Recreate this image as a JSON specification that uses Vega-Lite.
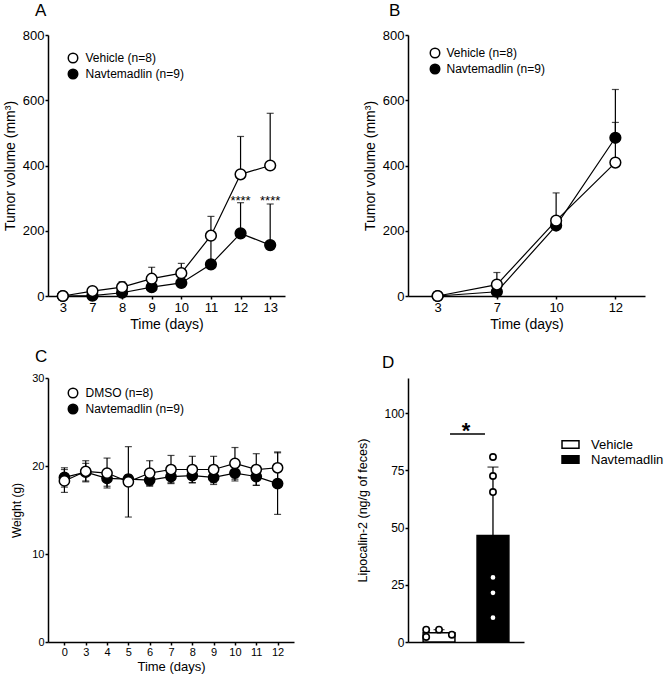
{
"$schema": "https://vega.github.io/schema/vega-lite/v6.json",
"background": "white",
"padding": {"left": 3, "top": 2, "right": 2, "bottom": 4},
"columns": 2,
"align": "none",
"bounds": "flush",
"spacing": {"row": 82, "column": 114},
"resolve": {"scale": {"fill": "independent", "x": "independent", "y": "independent"}, "legend": {"fill": "independent"}},
"config": {
 "font": "Liberation Sans",
 "view": {"stroke": null},
 "axis": {"grid": false, "domainColor": "black", "domainWidth": 1.5, "tickColor": "black", "tickWidth": 1.5, "tickSize": 3, "labelColor": "black", "titleColor": "black", "titleFontWeight": "normal", "labelFont": "Liberation Sans", "titleFont": "Liberation Sans"},
 "legend": {"labelColor": "black", "labelFont": "Liberation Sans", "padding": 0},
 "title": {"color": "black", "font": "Liberation Sans", "fontWeight": "normal", "fontSize": 17, "anchor": "start", "frame": "group"}
},
"datasets": {
 "A": [
  {"day":3,"group":"Navtemadlin (n=9)","mean":0,"hi":0},
  {"day":7,"group":"Navtemadlin (n=9)","mean":1,"hi":3},
  {"day":8,"group":"Navtemadlin (n=9)","mean":10,"hi":18},
  {"day":9,"group":"Navtemadlin (n=9)","mean":27,"hi":37},
  {"day":10,"group":"Navtemadlin (n=9)","mean":40,"hi":52},
  {"day":11,"group":"Navtemadlin (n=9)","mean":97,"hi":180},
  {"day":12,"group":"Navtemadlin (n=9)","mean":192,"hi":286},
  {"day":13,"group":"Navtemadlin (n=9)","mean":156,"hi":282},
  {"day":3,"group":"Vehicle (n=8)","mean":0,"hi":0},
  {"day":7,"group":"Vehicle (n=8)","mean":15,"hi":18},
  {"day":8,"group":"Vehicle (n=8)","mean":27,"hi":44},
  {"day":9,"group":"Vehicle (n=8)","mean":53,"hi":88},
  {"day":10,"group":"Vehicle (n=8)","mean":70,"hi":100},
  {"day":11,"group":"Vehicle (n=8)","mean":185,"hi":244},
  {"day":12,"group":"Vehicle (n=8)","mean":373,"hi":489},
  {"day":13,"group":"Vehicle (n=8)","mean":400,"hi":560}
 ],
 "Astars": [
  {"day":12,"y":279,"t":"****"},
  {"day":13,"y":279,"t":"****"}
 ],
 "B": [
  {"day":3,"group":"Navtemadlin (n=9)","mean":0,"hi":0},
  {"day":7,"group":"Navtemadlin (n=9)","mean":13,"hi":13},
  {"day":10,"group":"Navtemadlin (n=9)","mean":216,"hi":216},
  {"day":12,"group":"Navtemadlin (n=9)","mean":485,"hi":633},
  {"day":3,"group":"Vehicle (n=8)","mean":0,"hi":0},
  {"day":7,"group":"Vehicle (n=8)","mean":35,"hi":72},
  {"day":10,"group":"Vehicle (n=8)","mean":231,"hi":316},
  {"day":12,"group":"Vehicle (n=8)","mean":409,"hi":532}
 ],
 "C": [
  {"day":0,"group":"Navtemadlin (n=9)","mean":18.7,"lo":17.6,"hi":19.8},
  {"day":3,"group":"Navtemadlin (n=9)","mean":19.3,"lo":18.3,"hi":20.3},
  {"day":4,"group":"Navtemadlin (n=9)","mean":18.6,"lo":17.7,"hi":19.5},
  {"day":5,"group":"Navtemadlin (n=9)","mean":18.5,"lo":18.0,"hi":19.0},
  {"day":6,"group":"Navtemadlin (n=9)","mean":18.4,"lo":17.7,"hi":19.1},
  {"day":7,"group":"Navtemadlin (n=9)","mean":18.8,"lo":18.1,"hi":19.5},
  {"day":8,"group":"Navtemadlin (n=9)","mean":18.9,"lo":18.1,"hi":19.7},
  {"day":9,"group":"Navtemadlin (n=9)","mean":18.7,"lo":17.9,"hi":19.5},
  {"day":10,"group":"Navtemadlin (n=9)","mean":19.2,"lo":18.3,"hi":20.1},
  {"day":11,"group":"Navtemadlin (n=9)","mean":18.8,"lo":17.8,"hi":19.8},
  {"day":12,"group":"Navtemadlin (n=9)","mean":18.0,"lo":14.5,"hi":21.5},
  {"day":0,"group":"DMSO (n=8)","mean":18.3,"lo":17.0,"hi":19.6},
  {"day":3,"group":"DMSO (n=8)","mean":19.4,"lo":18.2,"hi":20.6},
  {"day":4,"group":"DMSO (n=8)","mean":19.2,"lo":17.5,"hi":20.9},
  {"day":5,"group":"DMSO (n=8)","mean":18.2,"lo":14.2,"hi":22.2},
  {"day":6,"group":"DMSO (n=8)","mean":19.2,"lo":17.8,"hi":20.6},
  {"day":7,"group":"DMSO (n=8)","mean":19.6,"lo":18.0,"hi":21.2},
  {"day":8,"group":"DMSO (n=8)","mean":19.6,"lo":18.1,"hi":21.1},
  {"day":9,"group":"DMSO (n=8)","mean":19.6,"lo":18.1,"hi":21.1},
  {"day":10,"group":"DMSO (n=8)","mean":20.3,"lo":18.5,"hi":22.1},
  {"day":11,"group":"DMSO (n=8)","mean":19.6,"lo":17.8,"hi":21.4},
  {"day":12,"group":"DMSO (n=8)","mean":19.8,"lo":18.0,"hi":21.6}
 ],
 "Dbars": [
  {"grp":"Vehicle","mean":4.0,"hi":5.4},
  {"grp":"Navtemadlin","mean":46.5,"hi":76.4}
 ],
 "Dpts": [
  {"grp":"Vehicle","slot":"l","val":5.4},
  {"grp":"Vehicle","slot":"l","val":2.2},
  {"grp":"Vehicle","slot":"c","val":5.4},
  {"grp":"Vehicle","slot":"r","val":3.2},
  {"grp":"Navtemadlin","slot":"c","val":80.8},
  {"grp":"Navtemadlin","slot":"c","val":72.5},
  {"grp":"Navtemadlin","slot":"c","val":65.5},
  {"grp":"Navtemadlin","slot":"c","val":28.2},
  {"grp":"Navtemadlin","slot":"c","val":21.5},
  {"grp":"Navtemadlin","slot":"c","val":10.6}
 ]
},
"concat": [
 {
  "width": 237, "height": 261,
  "title": {"text": "A", "dx": -13, "offset": 9},
  "data": {"name": "A"},
  "encoding": {"x": {"field": "day", "type": "ordinal", "title": "Time (days)", "scale": {"type": "point", "padding": 0.5}, "axis": {"labelAngle": 0, "labelFontSize": 13, "titleFontSize": 14, "labelPadding": 2, "titlePadding": 3}}},
  "layer": [
   {"mark": {"type": "rule", "color": "black", "strokeWidth": 1.2},
    "encoding": {"y": {"field": "mean", "type": "quantitative", "title": "Tumor volume (mm³)", "scale": {"domain": [0, 800], "nice": false}, "axis": {"values": [0,200,400,600,800], "labelFontSize": 13, "titleFontSize": 14, "labelPadding": 1, "titlePadding": 5}}, "y2": {"field": "hi"}}},
   {"mark": {"type": "tick", "color": "black", "size": 7, "thickness": 1.2},
    "encoding": {"y": {"field": "hi", "type": "quantitative", "title": "Tumor volume (mm³)"}}},
   {"mark": {"type": "line", "color": "black", "strokeWidth": 1.2},
    "encoding": {"y": {"field": "mean", "type": "quantitative", "title": "Tumor volume (mm³)"}, "detail": {"field": "group"}}},
   {"mark": {"type": "circle", "size": 115, "opacity": 1, "stroke": "black", "strokeWidth": 1.5},
    "encoding": {"y": {"field": "mean", "type": "quantitative", "title": "Tumor volume (mm³)"},
     "fill": {"field": "group", "type": "nominal", "scale": {"domain": ["Vehicle (n=8)", "Navtemadlin (n=9)"], "range": ["white", "black"]},
      "legend": {"title": null, "orient": "none", "legendX": 19, "legendY": 17, "symbolType": "circle", "symbolSize": 90, "symbolStrokeColor": "black", "symbolStrokeWidth": 1.5, "labelFontSize": 12, "labelOffset": 6.5, "rowPadding": 0}}}},
   {"data": {"name": "Astars"}, "mark": {"type": "text", "fontSize": 13, "baseline": "alphabetic", "align": "center", "color": "black"},
    "encoding": {"y": {"field": "y", "type": "quantitative", "title": "Tumor volume (mm³)"}, "text": {"field": "t"}}}
  ]
 },
 {
  "width": 237, "height": 261,
  "title": {"text": "B", "dx": -19, "offset": 9},
  "data": {"name": "B"},
  "encoding": {"x": {"field": "day", "type": "ordinal", "title": "Time (days)", "scale": {"type": "point", "padding": 0.5}, "axis": {"labelAngle": 0, "labelFontSize": 13, "titleFontSize": 14, "labelPadding": 2, "titlePadding": 3}}},
  "layer": [
   {"mark": {"type": "rule", "color": "black", "strokeWidth": 1.2},
    "encoding": {"y": {"field": "mean", "type": "quantitative", "title": "Tumor volume (mm³)", "scale": {"domain": [0, 800], "nice": false}, "axis": {"values": [0,200,400,600,800], "labelFontSize": 13, "titleFontSize": 14, "labelPadding": 1, "titlePadding": 5}}, "y2": {"field": "hi"}}},
   {"mark": {"type": "tick", "color": "black", "size": 7, "thickness": 1.2},
    "encoding": {"y": {"field": "hi", "type": "quantitative", "title": "Tumor volume (mm³)"}}},
   {"mark": {"type": "line", "color": "black", "strokeWidth": 1.2},
    "encoding": {"y": {"field": "mean", "type": "quantitative", "title": "Tumor volume (mm³)"}, "detail": {"field": "group"}}},
   {"mark": {"type": "circle", "size": 115, "opacity": 1, "stroke": "black", "strokeWidth": 1.5},
    "encoding": {"y": {"field": "mean", "type": "quantitative", "title": "Tumor volume (mm³)"},
     "fill": {"field": "group", "type": "nominal", "scale": {"domain": ["Vehicle (n=8)", "Navtemadlin (n=9)"], "range": ["white", "black"]},
      "legend": {"title": null, "orient": "none", "legendX": 21, "legendY": 12, "symbolType": "circle", "symbolSize": 90, "symbolStrokeColor": "black", "symbolStrokeWidth": 1.5, "labelFontSize": 12, "labelOffset": 5.5, "rowPadding": 0}}}}
  ]
 },
 {
  "width": 246, "height": 264,
  "title": {"text": "C", "dx": -13, "offset": 6},
  "data": {"name": "C"},
  "encoding": {"x": {"field": "day", "type": "ordinal", "title": "Time (days)", "scale": {"type": "point", "padding": 0.77}, "axis": {"labelAngle": 0, "labelFontSize": 11, "titleFontSize": 13, "labelPadding": 1, "titlePadding": 3}}},
  "layer": [
   {"mark": {"type": "rule", "color": "black", "strokeWidth": 1.2},
    "encoding": {"y": {"field": "lo", "type": "quantitative", "title": "Weight (g)", "scale": {"domain": [0, 30], "nice": false}, "axis": {"values": [0,10,20,30], "labelFontSize": 11, "titleFontSize": 12, "labelPadding": 1, "titlePadding": 8}}, "y2": {"field": "hi"}}},
   {"mark": {"type": "tick", "color": "black", "size": 7, "thickness": 1.2},
    "encoding": {"y": {"field": "hi", "type": "quantitative", "title": "Weight (g)"}}},
   {"mark": {"type": "tick", "color": "black", "size": 7, "thickness": 1.2},
    "encoding": {"y": {"field": "lo", "type": "quantitative", "title": "Weight (g)"}}},
   {"mark": {"type": "line", "color": "black", "strokeWidth": 1.2},
    "encoding": {"y": {"field": "mean", "type": "quantitative", "title": "Weight (g)"}, "detail": {"field": "group"}}},
   {"mark": {"type": "circle", "size": 105, "opacity": 1, "stroke": "black", "strokeWidth": 1.5},
    "encoding": {"y": {"field": "mean", "type": "quantitative", "title": "Weight (g)"},
     "fill": {"field": "group", "type": "nominal", "scale": {"domain": ["DMSO (n=8)", "Navtemadlin (n=9)"], "range": ["white", "black"]},
      "legend": {"title": null, "orient": "none", "legendX": 19, "legendY": 9, "symbolType": "circle", "symbolSize": 90, "symbolStrokeColor": "black", "symbolStrokeWidth": 1.5, "labelFontSize": 12, "labelOffset": 6.5, "rowPadding": 0}}}}
  ]
 },
 {
  "width": 116, "height": 264,
  "title": {"text": "D", "dx": -26, "offset": 6},
  "resolve": {"scale": {"xOffset": "independent"}},
  "encoding": {"x": {"field": "grp", "type": "nominal", "title": null, "scale": {"domain": ["Vehicle", "Navtemadlin"], "paddingInner": 0.41, "paddingOuter": 0.28}, "axis": {"labels": false, "ticks": false}}},
  "layer": [
   {"data": {"name": "Dbars"}, "mark": {"type": "rule", "color": "black", "strokeWidth": 1.3},
    "encoding": {"y": {"field": "mean", "type": "quantitative", "title": "Lipocalin-2  (ng/g of feces)", "scale": {"domain": [0, 115.3], "nice": false}, "axis": {"values": [0,25,50,75,100], "labelFontSize": 12, "titleFontSize": 12.5, "labelPadding": 1, "titlePadding": 14}}, "y2": {"field": "hi"}}},
   {"data": {"name": "Dbars"}, "mark": {"type": "tick", "color": "black", "size": 11, "thickness": 1.3},
    "encoding": {"y": {"field": "hi", "type": "quantitative", "title": "Lipocalin-2  (ng/g of feces)"}}},
   {"data": {"name": "Dbars"}, "mark": {"type": "bar", "stroke": "black", "strokeWidth": 1.5, "width": {"band": 1}},
    "encoding": {"y": {"field": "mean", "type": "quantitative", "title": "Lipocalin-2  (ng/g of feces)"},
     "fill": {"field": "grp", "type": "nominal", "scale": {"domain": ["Vehicle", "Navtemadlin"], "range": ["white", "black"]},
      "legend": {"title": null, "orient": "none", "legendX": 156, "legendY": 60, "symbolType": "M-1.5,-0.65L1.5,-0.65L1.5,0.65L-1.5,0.65Z", "symbolSize": 128, "symbolStrokeColor": "black", "symbolStrokeWidth": 1.5, "labelFontSize": 13, "labelOffset": 14, "rowPadding": 0}}}},
   {"data": {"name": "Dpts"}, "mark": {"type": "circle", "size": 40, "opacity": 1, "fill": "white", "stroke": "black", "strokeWidth": 1.6},
    "encoding": {"y": {"field": "val", "type": "quantitative", "title": "Lipocalin-2  (ng/g of feces)"},
     "xOffset": {"field": "slot", "type": "nominal", "scale": {"type": "point", "domain": ["l", "c", "r"], "padding": 0.24}}}},
   {"data": {"values": [{"a": "Vehicle", "b": "Navtemadlin", "y": 90.8}]}, "mark": {"type": "rule", "color": "black", "strokeWidth": 1.5, "xOffset": 11, "x2Offset": -8},
    "encoding": {"x": {"field": "a", "type": "nominal"}, "x2": {"field": "b"}, "y": {"field": "y", "type": "quantitative", "title": "Lipocalin-2  (ng/g of feces)"}}},
   {"data": {"values": [{"a": "Vehicle", "y": 90.8, "t": "*"}]}, "mark": {"type": "text", "fontSize": 22, "fontWeight": "bold", "baseline": "alphabetic", "align": "center", "dx": 27, "dy": 4, "color": "black"},
    "encoding": {"x": {"field": "a", "type": "nominal"}, "y": {"field": "y", "type": "quantitative", "title": "Lipocalin-2  (ng/g of feces)"}, "text": {"field": "t"}}}
  ]
 }
]
}
